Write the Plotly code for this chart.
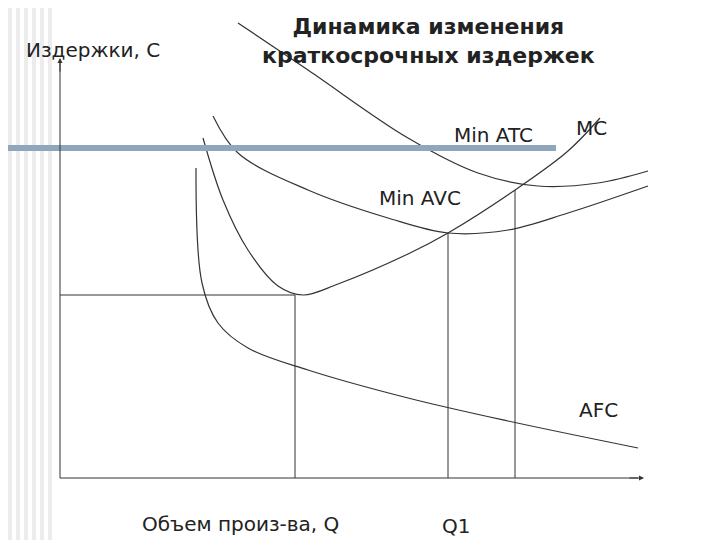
import plotly.graph_objects as go

atc_x = [230, 300, 400, 470, 530, 590, 640]
atc_y = [15, 62, 130, 165, 178, 175, 163]
avc_x = [205, 230, 300, 380, 440, 500, 560, 640]
avc_y = [108, 145, 182, 210, 225, 222, 205, 178]
mc_x = [195, 215, 240, 270, 295, 330, 400, 440, 510, 560, 592]
mc_y = [130, 192, 242, 278, 287, 276, 246, 225, 180, 143, 110]
afc_x = [188, 194, 210, 240, 300, 400, 500, 630]
afc_y = [160, 275, 315, 340, 362, 390, 413, 440]

fig = go.Figure()
for xs, ys in [(atc_x, atc_y), (avc_x, avc_y), (mc_x, mc_y), (afc_x, afc_y)]:
    fig.add_trace(go.Scatter(x=xs, y=ys, mode="lines", line=dict(color="#333", width=1.2, shape="spline"), showlegend=False))

shapes = []
for i in range(6):
    shapes.append(dict(type="rect", x0=i*8, x1=i*8+4, y0=0, y1=540, fillcolor="#ececec", line_width=0, layer="below"))
shapes.append(dict(type="rect", x0=0, x1=548, y0=137, y1=143, fillcolor="#8fa6bd", line_width=0))
ln = dict(color="#333", width=1)
shapes += [
    dict(type="line", x0=52, x1=52, y0=470, y1=55, line=ln),
    dict(type="line", x0=52, x1=630, y0=470, y1=470, line=ln),
    dict(type="line", x0=52, x1=287, y0=287, y1=287, line=ln),
    dict(type="line", x0=287, x1=287, y0=287, y1=470, line=ln),
    dict(type="line", x0=440, x1=440, y0=225, y1=470, line=ln),
    dict(type="line", x0=507, x1=507, y0=182, y1=470, line=ln),
]
fig.update_layout(shapes=shapes)
fig.add_annotation(x=52, y=50, ax=52, ay=65, xref="x", yref="y", axref="x", ayref="y", showarrow=True, arrowhead=2, arrowsize=1, arrowwidth=1, arrowcolor="#333", text="")
fig.add_annotation(x=636, y=470, ax=620, ay=470, xref="x", yref="y", axref="x", ayref="y", showarrow=True, arrowhead=2, arrowsize=1, arrowwidth=1, arrowcolor="#333", text="")

f = dict(family="DejaVu Sans", size=20, color="#222")
for t, x, y in [("Издержки, С", 85, 42), ("Min ATC", 485, 127), ("MC", 583, 120),
                ("Min AVC", 412, 190), ("AFC", 590, 402), ("Объем произ-ва, Q", 232, 516), ("Q1", 448, 518)]:
    fig.add_annotation(x=x, y=y, text=t, showarrow=False, font=f)
fig.add_annotation(x=420, y=33, text="<b>Динамика изменения<br>краткосрочных издержек</b>", showarrow=False,
                   font=dict(family="DejaVu Sans", size=22, color="#222"))

fig.update_xaxes(range=[0, 720], visible=False)
fig.update_yaxes(range=[540, 0], visible=False)
fig.update_layout(width=720, height=540, margin=dict(l=0, r=0, t=0, b=0, autoexpand=False),
                  plot_bgcolor="white", paper_bgcolor="white")
fig.write_html("out.html")
